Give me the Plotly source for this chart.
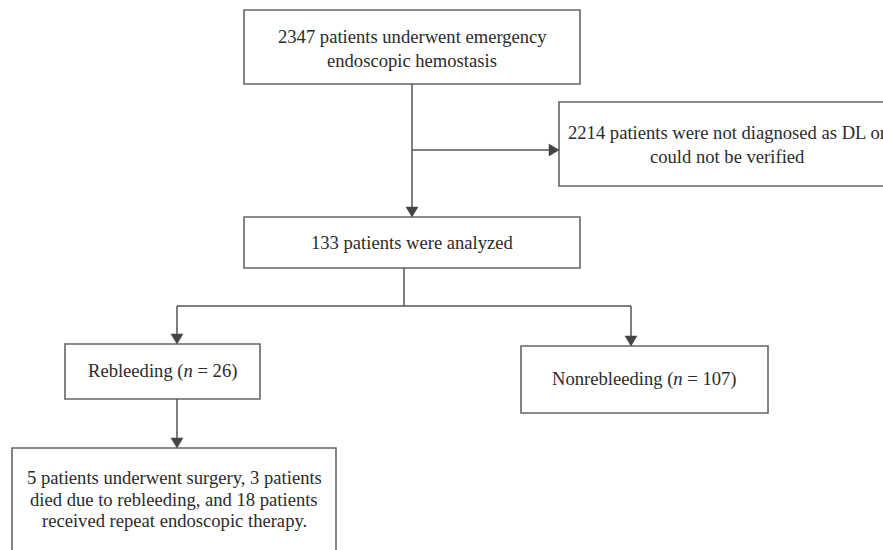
import plotly.graph_objects as go

# ---- data (flowchart counts and labels) ----
total_patients = 2347
excluded_patients = 2214
analyzed_patients = 133
rebleeding_n = 26
nonrebleeding_n = 107
surgery_n = 5
died_n = 3
repeat_endo_n = 18

box1_lines = [f"{total_patients} patients underwent emergency", "endoscopic hemostasis"]
box2_lines = [f"{excluded_patients} patients were not diagnosed as DL or", "could not be verified"]
box3_lines = [f"{analyzed_patients} patients were analyzed"]
box4_lines = [f"Rebleeding (<i>n</i> = {rebleeding_n})"]
box5_lines = [f"Nonrebleeding (<i>n</i> = {nonrebleeding_n})"]
box6_lines = [f"{surgery_n} patients underwent surgery, {died_n} patients",
              f"died due to rebleeding, and {repeat_endo_n} patients",
              "received repeat endoscopic therapy."]

W, H = 883, 550
LINE = "#555555"
BOX = "#666666"
TXT = "#2b2b2b"
FONT = "Liberation Serif, Times New Roman, serif"
FS = 18.6

fig = go.Figure()
shapes = []
annotations = []


def box(x0, y0, x1, y1):
    shapes.append(dict(type="rect", xref="x", yref="y", x0=x0, y0=y0, x1=x1, y1=y1,
                       line=dict(color=BOX, width=1.6), fillcolor="white", layer="above"))


def seg(x0, y0, x1, y1):
    shapes.append(dict(type="line", xref="x", yref="y", x0=x0, y0=y0, x1=x1, y1=y1,
                       line=dict(color=LINE, width=1.5), layer="above"))


def tri_down(x, ytip, w=12, h=10):
    shapes.append(dict(type="path", xref="x", yref="y",
                       path=f"M {x - w/2} {ytip - h} L {x + w/2} {ytip - h} L {x} {ytip} Z",
                       fillcolor="#444444", line=dict(color="#444444", width=0.5), layer="above"))


def tri_right(xtip, y, w=12, h=10):
    shapes.append(dict(type="path", xref="x", yref="y",
                       path=f"M {xtip - h} {y - w/2} L {xtip - h} {y + w/2} L {xtip} {y} Z",
                       fillcolor="#444444", line=dict(color="#444444", width=0.5), layer="above"))


def text_lines(lines, cx, ys):
    for t, y in zip(lines, ys):
        annotations.append(dict(x=cx, y=y, xref="x", yref="y", text=t, showarrow=False,
                                xanchor="center", yanchor="middle",
                                font=dict(family=FONT, size=FS, color=TXT)))


# boxes
box(244, 10, 580, 84)
box(559, 102, 895, 186)
box(244, 217, 580, 268)
box(65, 344, 260, 399)
box(521, 346, 768, 413)
box(12, 448, 336, 600)

# connectors
seg(412, 84, 412, 207)
tri_down(412, 217)
seg(412, 150, 549, 150)
tri_right(559, 150)
seg(404, 268, 404, 306)
seg(177, 306, 631, 306)
seg(177, 306, 177, 334)
tri_down(177, 344)
seg(631, 306, 631, 336)
tri_down(631, 346)
seg(177, 399, 177, 438)
tri_down(177, 448)

# texts
text_lines(box1_lines, 412, [36, 60])
text_lines(box2_lines, 727, [132, 156])
text_lines(box3_lines, 412, [242])
text_lines(box4_lines, 162.5, [371])
text_lines(box5_lines, 644.5, [379])
text_lines(box6_lines, 174, [477, 499, 520])

fig.update_layout(
    width=W, height=H,
    margin=dict(l=0, r=0, t=0, b=0),
    paper_bgcolor="white", plot_bgcolor="white",
    xaxis=dict(range=[0, W], visible=False, fixedrange=True),
    yaxis=dict(range=[H, 0], visible=False, fixedrange=True),
    shapes=shapes, annotations=annotations,
    showlegend=False,
)

fig.write_html("out.html",
               config={"displayModeBar": False},
               post_script="document.body.style.margin='0';document.body.style.overflow='hidden';")
